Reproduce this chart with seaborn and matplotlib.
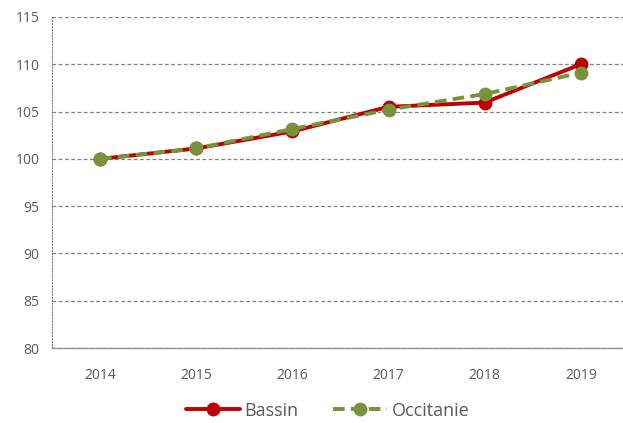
import pandas as pd
import numpy as np
import matplotlib.pyplot as plt
import seaborn as sns
from matplotlib.ticker import FixedLocator

# Data (index base 100 in 2014)
years = ['2014', '2015', '2016', '2017', '2018', '2019']
bassin = [100.0, 101.1, 102.9, 105.5, 105.95, 110.0]
occitanie = [100.0, 101.1, 103.15, 105.2, 106.85, 109.1]
series_names = ['Bassin', 'Occitanie']
colors = {'Bassin': '#C00000', 'Occitanie': '#77933C'}

df = pd.DataFrame({
    'year': years * 2,
    'value': bassin + occitanie,
    'serie': ['Bassin'] * len(years) + ['Occitanie'] * len(years),
})

sns.set_style('white')
plt.rcParams['font.family'] = ['Open Sans', 'DejaVu Sans']
text_col = '#595959'

fig = plt.figure(figsize=(6.23, 4.23), dpi=100)
ax = fig.add_axes([0.0835, 0.177, 0.926, 0.783])

sns.lineplot(data=df, x='year', y='value', hue='serie', style='serie',
             hue_order=series_names, style_order=series_names,
             palette=colors, dashes={'Bassin': '', 'Occitanie': (3, 1.6)},
             markers={'Bassin': 'o', 'Occitanie': 'o'}, markersize=10,
             markeredgewidth=0, linewidth=2.8, sort=False, ax=ax)

ax.set_ylim(80, 115)
ax.set_xlim(-0.5, 5.5)
ax.set_yticks(np.arange(80, 116, 5))
ax.yaxis.grid(True, color='#808080', linestyle=(0, (3, 2)), linewidth=0.9)
ax.xaxis.grid(False)
ax.set_axisbelow(True)

for s in ['top', 'right']:
    ax.spines[s].set_visible(False)
ax.spines['left'].set_color('#808080')
ax.spines['left'].set_linestyle(':')
ax.spines['bottom'].set_color('#909090')
ax.spines['bottom'].set_linewidth(1.0)

ax.xaxis.set_minor_locator(FixedLocator(np.arange(-0.5, 5.5, 1)))
ax.tick_params(axis='x', which='major', length=0, pad=14, labelsize=10, labelcolor=text_col)
ax.tick_params(axis='x', which='minor', length=5, color='#909090', direction='out')
ax.tick_params(axis='y', length=3, color='#808080', pad=6, labelsize=10, labelcolor=text_col)

ax.set_xlabel('')
ax.set_ylabel('')

handles, labels = ax.get_legend_handles_labels()
ax.legend(handles, labels, loc='lower center', bbox_to_anchor=(0.478, -0.265),
          ncol=2, frameon=False, fontsize=13, handlelength=3.0,
          columnspacing=1.9, handletextpad=0.25, labelcolor=text_col)

fig.savefig('out.png', dpi=100)
